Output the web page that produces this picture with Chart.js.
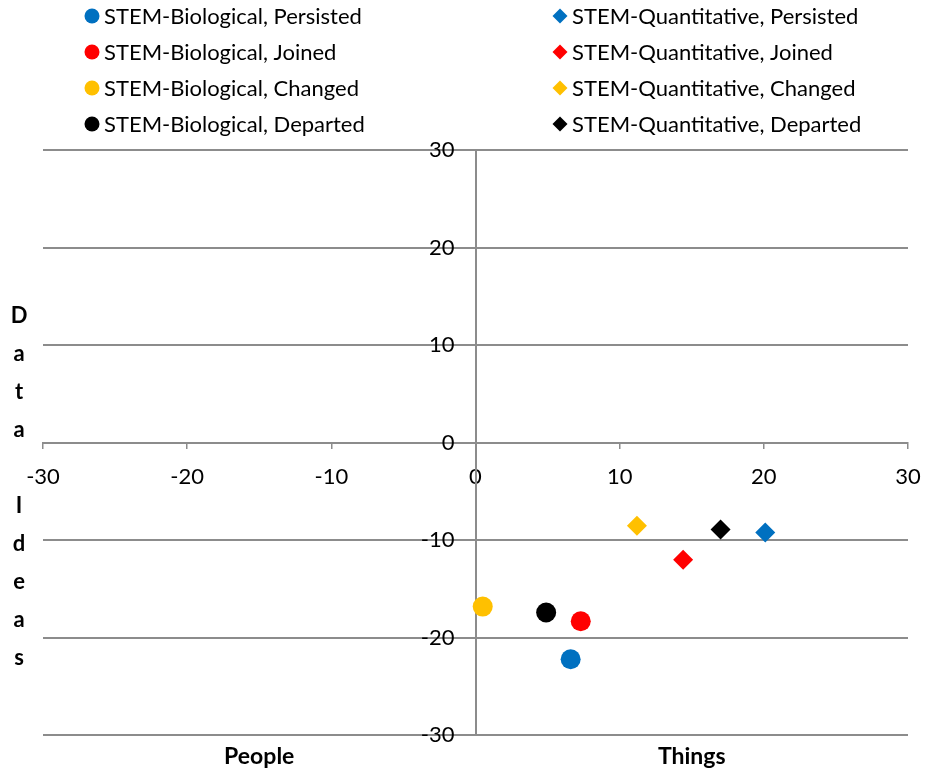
<!DOCTYPE html>
<html>
<head>
<meta charset="utf-8">
<script src="https://cdn.jsdelivr.net/npm/chart.js@4/dist/chart.umd.min.js"></script>
<style>
  html, body { margin: 0; padding: 0; background: #fff; }
  #wrap { width: 929px; height: 770px; }
</style>
</head>
<body>
<div id="wrap"><canvas id="chart"></canvas></div>
<script>
// Series labels and values (x = People/Things, y = Data/Ideas)
const seriesLabels = [
    'STEM-Biological, Persisted', 'STEM-Biological, Joined', 'STEM-Biological, Changed', 'STEM-Biological, Departed',
    'STEM-Quantitative, Persisted', 'STEM-Quantitative, Joined', 'STEM-Quantitative, Changed', 'STEM-Quantitative, Departed'
];
const seriesColors = ['#0070C0', '#FF0000', '#FFC000', '#000000', '#0070C0', '#FF0000', '#FFC000', '#000000'];
const seriesShapes = ['circle', 'circle', 'circle', 'circle', 'rectRot', 'rectRot', 'rectRot', 'rectRot'];
const xValues = [6.6, 7.3, 0.5, 4.9, 20.1, 14.4, 11.2, 17.0];
const yValues = [-22.2, -18.3, -16.8, -17.4, -9.2, -12.0, -8.5, -8.9];

const axisMin = -30;
const axisMax = 30;
const axisStep = 10;
const xTitles = ['People', 'Things'];
const yTitle = 'Data Ideas';

const FONT = 'Lato, "Open Sans", sans-serif';
const GRID = '#8c8c8c';

const datasets = seriesLabels.map((label, i) => ({
    label: label,
    data: [{ x: xValues[i], y: yValues[i] }],
    pointStyle: seriesShapes[i],
    pointRadius: 10,
    backgroundColor: seriesColors[i],
    borderColor: seriesColors[i],
    borderWidth: 0
}));

// Legend in two columns + stacked vertical title
const extras = {
    id: 'extras',
    afterDraw(chart) {
        const ctx = chart.ctx;
        ctx.save();
        ctx.font = '22px ' + FONT;
        ctx.textBaseline = 'middle';
        chart.data.datasets.forEach((ds, i) => {
            const col = i < 4 ? 0 : 1;
            const row = i % 4;
            const mx = col === 0 ? 92 : 560;
            const my = 16 + row * 36;
            ctx.fillStyle = ds.backgroundColor;
            ctx.beginPath();
            if (ds.pointStyle === 'circle') {
                ctx.arc(mx, my, 7.5, 0, Math.PI * 2);
            } else {
                ctx.moveTo(mx - 7.5, my);
                ctx.lineTo(mx, my - 7.5);
                ctx.lineTo(mx + 7.5, my);
                ctx.lineTo(mx, my + 7.5);
                ctx.closePath();
            }
            ctx.fill();
            ctx.fillStyle = '#000';
            ctx.textAlign = 'left';
            ctx.fillText(ds.label, mx + 12, my + 1);
        });

        ctx.font = 'bold 22px ' + FONT;
        ctx.textAlign = 'center';
        yTitle.split('').forEach((ch, i) => {
            ctx.fillText(ch, 19, 316 + i * 38);
        });
        ctx.restore();
    }
};

new Chart(document.getElementById('chart'), {
    type: 'scatter',
    data: { datasets: datasets },
    options: {
        responsive: true,
        maintainAspectRatio: false,
        animation: false,
        events: [],
        layout: { padding: { left: 43, right: 21, top: 150, bottom: -7 } },
        plugins: {
            legend: { display: false },
            tooltip: { enabled: false }
        },
        scales: {
            x: {
                type: 'linear',
                min: axisMin,
                max: axisMax,
                position: 'center',
                ticks: {
                    stepSize: axisStep,
                    color: '#000',
                    padding: 0,
                    font: { family: FONT, size: 22, lineHeight: 2.7 }
                },
                grid: { display: true, drawOnChartArea: false, drawTicks: true, tickLength: 5, color: GRID, lineWidth: 1.5 },
                border: { display: true, color: GRID, width: 2 }
            },
            y: {
                type: 'linear',
                min: axisMin,
                max: axisMax,
                position: 'center',
                ticks: {
                    stepSize: axisStep,
                    color: '#000',
                    padding: 16,
                    font: { family: FONT, size: 22 }
                },
                grid: { color: GRID, lineWidth: 2, drawTicks: true, tickLength: 5 },
                border: { display: true, color: GRID, width: 2 }
            },
            x2: {
                type: 'category',
                labels: xTitles,
                position: 'bottom',
                offset: true,
                grid: { display: false, drawTicks: false },
                border: { display: false },
                ticks: {
                    color: '#000',
                    padding: 7,
                    font: { family: FONT, size: 23, weight: 'bold' }
                }
            }
        }
    },
    plugins: [extras]
});
</script>
</body>
</html>
